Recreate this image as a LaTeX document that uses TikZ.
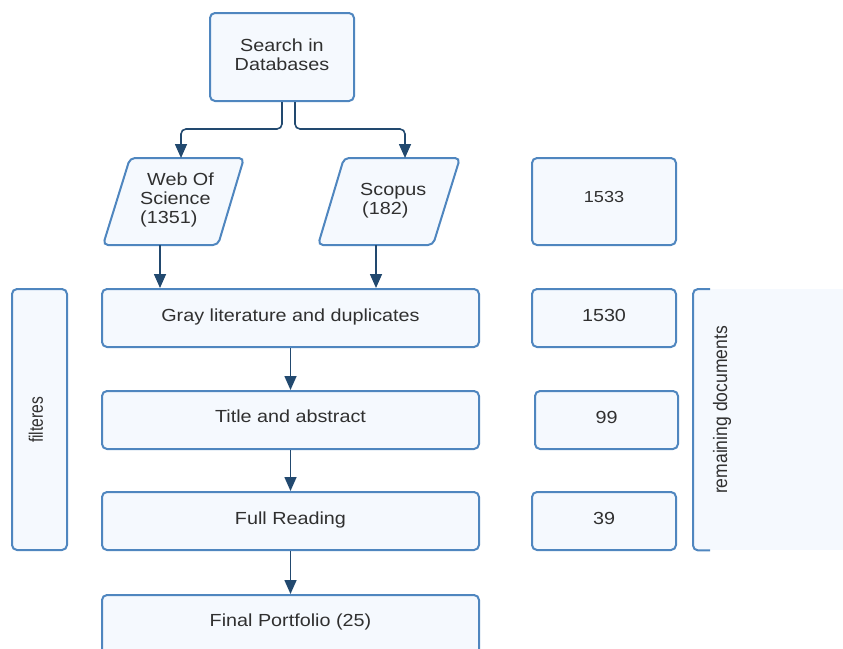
\documentclass[tikz,border=0pt]{standalone}
\usepackage{fontspec}
\setmainfont{Liberation Sans}
\newfontfamily\hf{Liberation Sans}[FakeStretch=1.13]
\newfontfamily\vfa{Liberation Sans}[FakeStretch=0.8]
\newfontfamily\vfb{Liberation Sans}[FakeStretch=0.9]
\usetikzlibrary{arrows.meta}
\definecolor{boxline}{HTML}{4F86BF}
\definecolor{boxfill}{HTML}{F5F9FE}
\definecolor{arrcol}{HTML}{22496F}
\definecolor{txtcol}{HTML}{303030}
\tikzset{
  box/.style={draw=boxline, fill=boxfill, line width=2pt, rounded corners=5pt, inner sep=0pt},
  txt/.style={inner sep=0pt, anchor=base, text=txtcol, font=\hf\fontsize{17.5}{19}\selectfont},
  arr/.style={draw=arrcol, line width=1.6pt, -{Triangle[width=12pt,length=14pt]}, rounded corners=5pt},
}
\begin{document}
\begin{tikzpicture}[x=1pt,y=1pt]
\useasboundingbox (0,0) rectangle (843,-648);

% top
\node[box, minimum width=144, minimum height=88] (search) at (282,-57) {};
\node[txt, align=center] (searcht) at (282,-70) {Search in\\Databases};

% parallelograms
\draw[draw=boxline, fill=boxfill, line width=2pt, rounded corners=5pt]
  (130,-158) -- (244,-158) -- (218,-245) -- (103,-245) -- cycle;
\node[txt, align=left, anchor=base west] (wos) at (140,-223) {\hspace{7pt}Web Of\\Science\\(1351)};
\draw[draw=boxline, fill=boxfill, line width=2pt, rounded corners=5pt]
  (344,-158) -- (460,-158) -- (433,-245) -- (318,-245) -- cycle;
\node[txt, align=left, anchor=base west] (scopus) at (360,-214) {Scopus\\\hspace{2pt}(182)};
\coordinate (wosTop) at (181,-158);
\coordinate (scoTop) at (405,-158);
\coordinate (wosBot) at (160,-245);
\coordinate (scoBot) at (376,-245);

% main column
\node[box, minimum width=377, minimum height=58] (gray) at (290.5,-318) {};
\node[txt] (grayt) at (290.5,-321) {Gray literature and duplicates};
\node[box, minimum width=377, minimum height=58] (title) at (290.5,-420) {};
\node[txt] (titlet) at (290.5,-422.5) {Title and abstract};
\node[box, minimum width=377, minimum height=58] (full) at (290.5,-521) {};
\node[txt] (fullt) at (290.5,-524) {Full Reading};
\node[box, minimum width=377, minimum height=70, anchor=north] (final) at (290.5,-594) {};
\node[txt] (finalt) at (290.5,-626) {Final Portfolio (25)};

% numbers
\node[box, minimum width=144, minimum height=87] (n1533) at (604,-201.5) {};
\node[txt, font=\hf\fontsize{16}{19}\selectfont] (n1533t) at (604,-202.5) {1533};
\node[box, minimum width=144, minimum height=58] (n1530) at (604,-318) {};
\node[txt] (n1530t) at (604,-321) {1530};
\node[box, minimum width=143, minimum height=58] (n99) at (606.5,-420) {};
\node[txt] (n99t) at (606.5,-423) {99};
\node[box, minimum width=144, minimum height=58] (n39) at (604,-521) {};
\node[txt] (n39t) at (604,-524) {39};

% filteres
\node[box, minimum width=55, minimum height=261] (filt) at (39.5,-419.5) {};
\node[txt, anchor=center, rotate=90, font=\vfa\fontsize{19.5}{20}\selectfont] (filtt) at (36,-420) {filteres};

% remaining documents
\node[fill=boxfill, inner sep=0pt, minimum width=150, minimum height=261, anchor=north west] (remain) at (693,-289) {};
\draw[draw=boxline, line width=2pt, rounded corners=5pt]
  ([xshift=17pt]remain.north west) -- (remain.north west) -- (remain.south west) -- ([xshift=17pt]remain.south west);
\node[txt, anchor=center, rotate=90, font=\vfb\fontsize{19.5}{20}\selectfont] (remaint) at (722,-410) {remaining documents};

% connectors
\draw[arr] (search.south) -- ++(0,-27) -| (wosTop);
\draw[arr] ([xshift=13pt]search.south) -- ++(0,-27) -| (scoTop);
\draw[arr, rounded corners=0pt] (wosBot) -- (wosBot |- gray.north);
\draw[arr, rounded corners=0pt] (scoBot) -- (scoBot |- gray.north);
\draw[arr, rounded corners=0pt] (gray.south) -- (title.north);
\draw[arr, rounded corners=0pt] (title.south) -- (full.north);
\draw[arr, rounded corners=0pt] (full.south) -- (final.north);
\end{tikzpicture}
\end{document}
